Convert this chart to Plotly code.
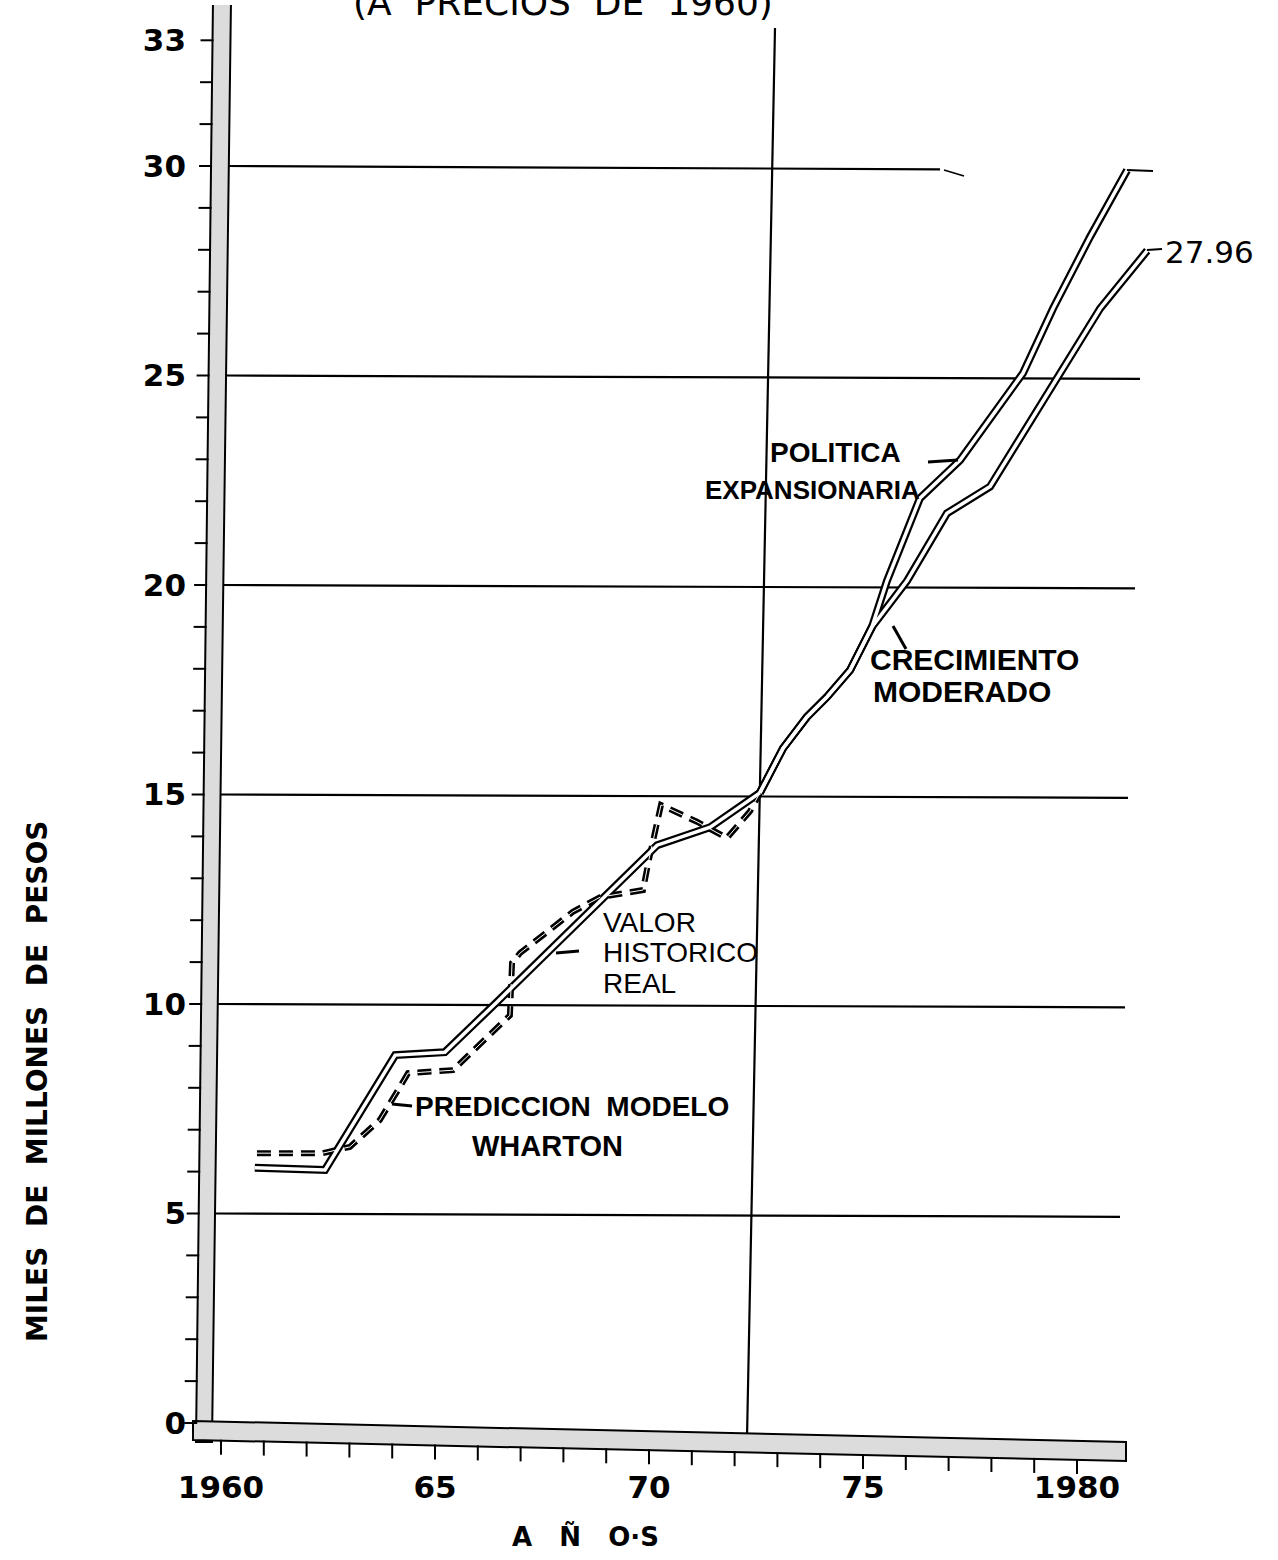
import plotly.graph_objects as go

# ---------------- data ----------------
hist_years = [1960.79, 1962.43, 1964.07, 1965.23, 1966.45, 1969.09, 1970.19, 1971.43, 1972.59]
hist_vals = [6.09, 6.04, 8.78, 8.85, 10.05, 12.67, 13.79, 14.22, 15.04]

common_years = [1972.59, 1973.13, 1973.69, 1974.16, 1974.70, 1975.00, 1975.21]
common_vals = [15.04, 16.10, 16.85, 17.33, 17.97, 18.60, 19.00]

exp_years = [1975.56, 1976.33, 1977.27, 1978.74, 1979.44, 1980.30, 1981.17]
exp_vals = [20.10, 22.07, 22.98, 25.06, 26.60, 28.30, 29.90]

mod_years = [1976.03, 1976.96, 1977.97, 1979.60, 1980.54, 1981.64]
mod_vals = [20.10, 21.71, 22.35, 25.06, 26.60, 27.98]

wh_years = [1960.84, 1962.38, 1963.01, 1963.71, 1964.18, 1964.37, 1965.42, 1966.75,
            1966.80, 1966.99, 1967.62, 1968.22, 1968.86, 1969.86, 1969.98, 1970.28,
            1971.12, 1971.82, 1972.36, 1972.59]
wh_vals = [6.44, 6.44, 6.59, 7.23, 8.02, 8.35, 8.42, 9.73,
           10.98, 11.22, 11.72, 12.20, 12.55, 12.72, 13.36, 14.75,
           14.35, 13.96, 14.60, 15.04]

x_tick_vals = [1960, 1965, 1970, 1975, 1980]
x_tick_text = ["1960", "65", "70", "75", "1980"]
x_minor_years = list(range(1960, 1981))
y_tick_vals = [0, 5, 10, 15, 20, 25, 30, 33]
y_tick_text = ["0", "5", "10", "15", "20", "25", "30", "33"]
y_minor_vals = list(range(0, 34))
grid_vals = [5, 10, 15, 20, 25, 30]
end_label = "27.96"

# ---------------- geometry helpers (page pixels -> axis units) ----------------
W, H = 1278, 1560
ML, MR, MT, MB = 150, 98, 5, 80
PX_YEAR, X0 = 42.8, 221.0
PX_UNIT, Y0 = 41.9, 1423.0
PW, PH = W - ML - MR, H - MT - MB


def xd(px):
    return 1960 + (px - X0) / PX_YEAR


def yd(py):
    return (Y0 - py) / PX_UNIT


def xpx(year):
    return X0 + (year - 1960) * PX_YEAR


def ypx(v):
    return Y0 - v * PX_UNIT


def xp(px):
    return (px - ML) / PW


def yp(py):
    return (H - MB - py) / PH


FONT = "DejaVu Sans"
ARIAL = "Liberation Sans"
BAR_FILL = "#dcdcdc"

fig = go.Figure()

proj_exp_x = common_years + exp_years
proj_exp_y = common_vals + exp_vals
proj_mod_x = common_years + mod_years
proj_mod_y = common_vals + mod_vals

solid_series = [(hist_years, hist_vals), (proj_exp_x, proj_exp_y), (proj_mod_x, proj_mod_y)]
DASH = "14px,8px"

# black outlines
for xs, ys in solid_series:
    fig.add_trace(go.Scatter(x=xs, y=ys, mode="lines",
                             line=dict(color="black", width=8), hoverinfo="skip"))
fig.add_trace(go.Scatter(x=wh_years, y=wh_vals, mode="lines",
                         line=dict(color="black", width=6, dash=DASH), hoverinfo="skip"))
# white cores
for xs, ys in solid_series:
    fig.add_trace(go.Scatter(x=xs, y=ys, mode="lines",
                             line=dict(color="white", width=3.5), hoverinfo="skip"))
fig.add_trace(go.Scatter(x=wh_years, y=wh_vals, mode="lines",
                         line=dict(color="white", width=1.0, dash=DASH), hoverinfo="skip"))

shapes = []

# horizontal rules
grid_end_px = {5: 1120, 10: 1125, 15: 1128, 20: 1135, 25: 1140, 30: 940}


def bar_right_px(py):
    return 212 + (230 - 212) * (1442 - py) / 1442


def bar_left_px(py):
    return 196 + (213 - 196) * (1442 - py) / 1442


for v in grid_vals:
    py = ypx(v)
    shapes.append(dict(type="line", xref="x", yref="y",
                       x0=xd(bar_right_px(py)), y0=v, x1=xd(grid_end_px[v]), y1=v - 0.08,
                       line=dict(color="black", width=2.2), layer="below"))
shapes.append(dict(type="line", xref="x", yref="y", x0=xd(944), y0=yd(170), x1=xd(964), y1=yd(176),
                   line=dict(color="black", width=1.5)))

# slanted vertical rule
shapes.append(dict(type="line", xref="x", yref="y", x0=xd(747), y0=yd(1438), x1=xd(775), y1=yd(28),
                   line=dict(color="black", width=2.2), layer="below"))

# left (y) bar
shapes.append(dict(type="path", xref="x", yref="y",
                   path=f"M {xd(196)},{yd(1442)} L {xd(213)},{yd(0)} L {xd(231)},{yd(0)} L {xd(212)},{yd(1442)} Z",
                   fillcolor=BAR_FILL, line=dict(color="black", width=2)))
# bottom (x) bar
shapes.append(dict(type="path", xref="x", yref="y",
                   path=f"M {xd(193)},{yd(1421)} L {xd(1126)},{yd(1442)} L {xd(1126)},{yd(1461)} L {xd(193)},{yd(1440)} Z",
                   fillcolor=BAR_FILL, line=dict(color="black", width=2)))


def bottom_edge_px(px):
    return 1440 + (px - 193) * (21 / 933)


# x ticks (one per year) hanging under the bar
for yr in x_minor_years:
    px = xpx(yr)
    b = bottom_edge_px(px)
    shapes.append(dict(type="line", xref="x", yref="y", x0=yr, y0=yd(b - 1), x1=yr, y1=yd(b + 14),
                       line=dict(color="black", width=2)))

# y ticks (one per unit) left of the bar
for v in y_minor_vals:
    py = ypx(v)
    lx = bar_left_px(py)
    shapes.append(dict(type="line", xref="x", yref="y", x0=xd(lx - 12), y0=v, x1=xd(lx + 1), y1=v,
                       line=dict(color="black", width=2)))

# leader lines and tails
leaders = [((928, 462), (958, 460), 3), ((893, 626), (906, 649), 3), ((556, 953), (579, 951), 3),
           ((392, 1104), (412, 1106), 3), ((1127, 170), (1153, 171), 2), ((1147, 250), (1162, 249), 2)]
for (ax, ay), (bx, by), w in leaders:
    shapes.append(dict(type="line", xref="x", yref="y", x0=xd(ax), y0=yd(ay), x1=xd(bx), y1=yd(by),
                       line=dict(color="black", width=w)))

annotations = []


def label(text, px, py, size, family=ARIAL, bold=True, xanchor="left"):
    t = f"<b>{text}</b>" if bold else text
    annotations.append(dict(text=t, x=xd(px), y=yd(py), xref="x", yref="y",
                            xanchor=xanchor, yanchor="middle", showarrow=False,
                            font=dict(family=family, size=size, color="black")))


label("POLITICA", 768, 452, 28)
label("EXPANSIONARIA", 703, 490, 26)
label("CRECIMIENTO", 868, 659, 30)
label("MODERADO", 871, 691, 30)
label("VALOR", 601, 922, 28, bold=False)
label("HISTORICO", 601, 952, 28, bold=False)
label("REAL", 601, 983, 28, bold=False)
label("PREDICCION  MODELO", 413, 1106, 28)
label("WHARTON", 470, 1146, 29)
label(end_label, 1163, 252, 31, family=FONT, bold=False)
label(". . . .", 1200, 146, 20)

# title (cut off at the top edge of the page, as in the original)
annotations.append(dict(text="(A  PRECIOS  DE  1960)", xref="paper", yref="paper",
                        x=xp(563), y=yp(2), xanchor="center", yanchor="middle", showarrow=False,
                        font=dict(family=FONT, size=36, color="black")))
# axis titles
annotations.append(dict(text="<b>MILES  DE  MILLONES  DE  PESOS</b>", xref="paper", yref="paper",
                        x=xp(37), y=yp(1082), xanchor="center", yanchor="middle", textangle=-90,
                        showarrow=False, font=dict(family=FONT, size=28, color="black")))
annotations.append(dict(text="<b>A   Ñ   O·S</b>", xref="paper", yref="paper",
                        x=xp(585), y=yp(1536), xanchor="center", yanchor="middle", showarrow=False,
                        font=dict(family=FONT, size=26, color="black")))

fig.update_layout(
    width=W, height=H,
    margin=dict(l=ML, r=MR, t=MT, b=MB),
    paper_bgcolor="white", plot_bgcolor="white",
    showlegend=False,
    shapes=shapes, annotations=annotations,
    xaxis=dict(range=[xd(ML), xd(W - MR)], tickvals=x_tick_vals, ticktext=x_tick_text,
               showgrid=False, zeroline=False, showline=False, ticks="",
               anchor="free", position=yp(1466),
               tickfont=dict(family=FONT, size=31, color="black", weight="bold"), automargin=False),
    yaxis=dict(range=[yd(H - MB), yd(MT)], tickvals=y_tick_vals, ticktext=y_tick_text,
               showgrid=False, zeroline=False, showline=False, ticks="",
               anchor="free", position=xp(186),
               tickfont=dict(family=FONT, size=31, color="black", weight="bold"), automargin=False),
)

fig.write_html("out.html", config={"displayModeBar": False},
               post_script="document.body.style.margin='0px';document.body.style.overflow='hidden';")
